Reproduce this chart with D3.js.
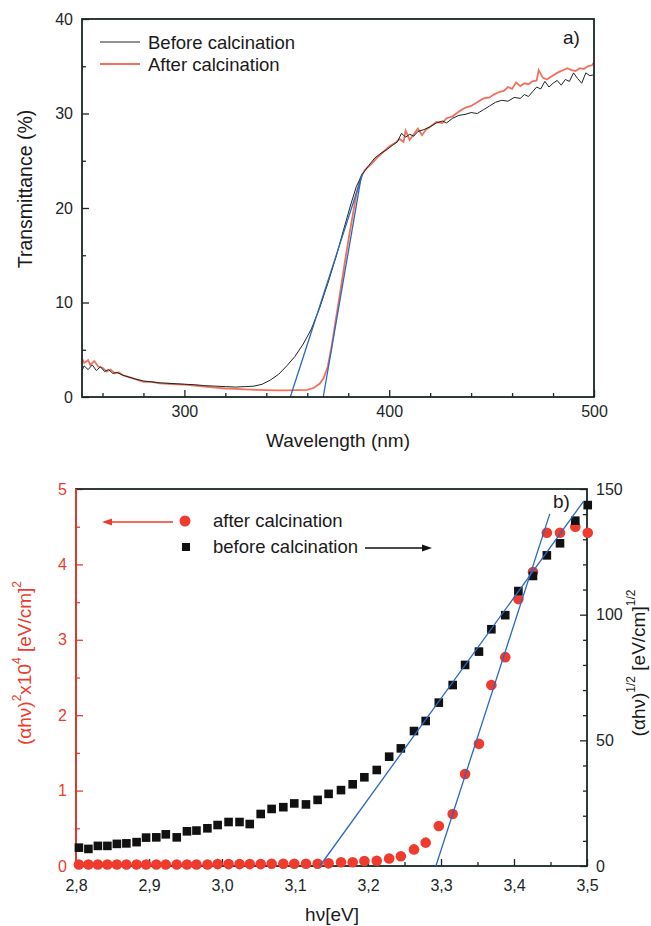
<!DOCTYPE html>
<html>
<head>
<meta charset="utf-8">
<script src="https://cdn.jsdelivr.net/npm/d3@7/dist/d3.min.js"></script>
<style>
  body { margin: 0; background: #fff; }
  svg text { font-family: "Liberation Sans", Arial, sans-serif; }
</style>
</head>
<body>
<svg id="chart" width="651" height="926"></svg>
<script>
// ---- panel a) transmittance spectra, [wavelength nm, T %]
const beforeCalcination = [
  [250, 2.8], [251, 3.3], [253, 2.9], [255, 3.4], [257, 2.8], [259, 3.2], [261, 2.7], [263, 2.9],
  [265, 2.5], [267, 2.6], [270, 2.3], [273, 2.1], [276, 1.9], [280, 1.7], [284, 1.6], [288, 1.5],
  [292, 1.45], [296, 1.4], [300, 1.35], [305, 1.3], [310, 1.2], [315, 1.15], [320, 1.1], [325, 1.05],
  [330, 1.1], [334, 1.15], [338, 1.35], [342, 1.8], [346, 2.4], [350, 3.3], [354, 4.3], [358, 5.6],
  [362, 7.2], [366, 9.4], [370, 12.0], [374, 14.8], [378, 17.9], [381, 20.2], [384, 22.3], [387, 23.6],
  [390, 24.5], [393, 25.3], [396, 25.8], [399, 26.2], [402, 26.7], [404, 27.0], [406, 27.9], [408, 27.5],
  [410, 27.8], [412, 27.6], [414, 28.1], [417, 28.3], [420, 28.6], [423, 29.0], [426, 29.2], [428, 29.0],
  [431, 29.5], [434, 29.8], [437, 29.9], [440, 30.1], [443, 30.0], [446, 30.4], [449, 30.8], [452, 31.2],
  [455, 31.4], [458, 31.3], [461, 31.7], [464, 31.6], [466, 32.0], [468, 31.8], [470, 32.3], [472, 32.8],
  [474, 32.6], [476, 33.4], [478, 32.8], [480, 33.2], [482, 33.5], [484, 33.0], [486, 33.6], [488, 33.4],
  [490, 34.3], [492, 33.7], [494, 33.2], [496, 34.3], [498, 34.0], [500, 34.1]
];
const afterCalcination = [
  [250, 4.1], [251, 3.6], [253, 3.9], [254, 3.4], [256, 3.8], [258, 3.2], [260, 3.1], [262, 2.7],
  [264, 2.9], [266, 2.5], [268, 2.6], [270, 2.3], [273, 2.1], [276, 1.9], [280, 1.6], [284, 1.6],
  [288, 1.45], [292, 1.4], [296, 1.35], [300, 1.3], [305, 1.2], [310, 1.1], [315, 1.0], [320, 0.9],
  [325, 0.85], [330, 0.8], [335, 0.75], [340, 0.72], [345, 0.7], [350, 0.7], [355, 0.72], [360, 0.75],
  [363, 0.95], [366, 1.4], [368, 2.0], [370, 3.2], [372, 5.5], [374, 8.3], [376, 11.0], [378, 13.8],
  [380, 16.5], [382, 19.0], [384, 21.5], [386, 23.2], [388, 24.0], [391, 24.6], [394, 25.3], [397, 25.9],
  [400, 26.5], [403, 26.9], [405, 27.3], [407, 27.0], [408, 28.2], [410, 27.2], [412, 27.8], [414, 28.4],
  [416, 27.7], [418, 28.3], [420, 28.6], [423, 29.1], [426, 29.0], [428, 29.5], [431, 29.7], [434, 30.2],
  [437, 30.6], [440, 30.8], [443, 31.2], [446, 31.6], [449, 31.7], [451, 32.0], [454, 32.3], [456, 32.4],
  [458, 32.8], [460, 32.6], [462, 33.3], [464, 32.9], [466, 33.2], [468, 33.1], [470, 33.4], [472, 33.5],
  [473, 34.6], [475, 33.8], [477, 33.6], [479, 33.9], [482, 34.3], [485, 34.6], [487, 34.8], [489, 34.6],
  [491, 34.5], [493, 34.8], [495, 34.7], [497, 35.0], [499, 35.1], [500, 35.4]
];
// tangent lines (band edge extrapolation)
const topFitLines = [
  [[351.7, 0], [387, 23.6]],
  [[367.8, 0], [386.6, 23.6]]
];
const topXTicks = [300, 400, 500];
const topXMinor = [260, 280, 320, 340, 360, 380, 420, 440, 460, 480];
const topYTicks = [0, 10, 20, 30, 40];
const topYMinor = [5, 15, 25, 35];

// ---- panel b) Tauc plot
const photonEnergy = [
  2.804, 2.817, 2.830, 2.843, 2.856, 2.869, 2.883, 2.896, 2.910, 2.923,
  2.938, 2.952, 2.965, 2.980, 2.994, 3.009, 3.024, 3.038, 3.053, 3.068,
  3.084, 3.099, 3.115, 3.131, 3.146, 3.163, 3.179, 3.195, 3.212, 3.229,
  3.245, 3.263, 3.279, 3.297, 3.316, 3.333, 3.352, 3.369, 3.388, 3.406,
  3.426, 3.445, 3.463, 3.484, 3.501
];
// (alpha h nu)^2 x 1e4, left axis
const afterAlphaSq = [
  0.02, 0.02, 0.02, 0.02, 0.02, 0.02, 0.02, 0.02, 0.02, 0.02,
  0.02, 0.02, 0.02, 0.02, 0.025, 0.025, 0.025, 0.025, 0.025, 0.03,
  0.03, 0.03, 0.03, 0.03, 0.035, 0.05, 0.05, 0.066, 0.07, 0.10,
  0.13, 0.22, 0.31, 0.53, 0.69, 1.22, 1.62, 2.40, 2.77, 3.54,
  3.90, 4.42, 4.42, 4.50, 4.42
];
// (alpha h nu)^1/2, right axis
const beforeAlphaSqrt = [
  7.3, 6.8, 8.0, 8.0, 8.8, 9.0, 9.5, 11.3, 11.4, 12.6,
  11.4, 13.8, 14.1, 15.0, 16.3, 17.5, 17.5, 16.7, 20.7, 22.7,
  23.4, 24.9, 24.5, 26.3, 28.7, 30.2, 32.5, 35.3, 38.2, 43.5,
  46.8, 53.7, 57.7, 65.0, 72.0, 80.0, 85.3, 94.2, 99.8, 109.4,
  115.4, 123.6, 128.4, 137.4, 143.6
];
const fitAfter = [[3.293, 0], [3.449, 4.67]];     // left units
const fitBefore = [[3.134, 0], [3.495, 145]];     // right units
const botXTicks = [2.8, 2.9, 3.0, 3.1, 3.2, 3.3, 3.4, 3.5];
const botXMinor = [2.85, 2.95, 3.05, 3.15, 3.25, 3.35, 3.45];
const leftTicks = [0, 1, 2, 3, 4, 5];
const leftMinor = [0.5, 1.5, 2.5, 3.5, 4.5];
const rightTicks = [0, 50, 100, 150];
const rightMinor = [10, 20, 30, 40, 60, 70, 80, 90, 110, 120, 130, 140];

const ink = '#1c2626';
const red = '#ee3b2d';
const salmon = '#f3705a';
const blue = '#2b68c0';

const svg = d3.select('#chart');

function ticks(g, axis, color, fontSize) {
  g.call(axis);
  g.select('.domain').remove();
  g.selectAll('.tick line').attr('stroke', color).attr('stroke-width', 1.3);
  g.selectAll('.tick text')
    .attr('fill', color)
    .style('font-size', fontSize + 'px')
    .style('font-family', '"Liberation Sans", Arial, sans-serif');
}

// ================= panel a =================
const xTop = d3.scaleLinear().domain([250, 500]).range([82, 594]);
const yTop = d3.scaleLinear().domain([0, 40]).range([397, 19]);
const panelA = svg.append('g');

panelA.append('g').attr('transform', `translate(82,0)`)
  .call(g => ticks(g, d3.axisLeft(yTop).tickValues(topYTicks).tickFormat(d3.format('d')).tickSize(-7).tickPadding(9), ink, 16));
panelA.append('g').attr('transform', `translate(82,0)`)
  .call(g => ticks(g, d3.axisLeft(yTop).tickValues(topYMinor).tickSize(-4).tickFormat(''), ink, 16));
panelA.append('g').attr('transform', `translate(0,397)`)
  .call(g => ticks(g, d3.axisBottom(xTop).tickValues(topXTicks).tickFormat(d3.format('d')).tickSize(-7).tickPadding(9), ink, 16));
panelA.append('g').attr('transform', `translate(0,397)`)
  .call(g => ticks(g, d3.axisBottom(xTop).tickValues(topXMinor).tickSize(-4).tickFormat(''), ink, 16));

const lineTop = d3.line().x(d => xTop(d[0])).y(d => yTop(d[1]));
panelA.append('path').datum(afterCalcination)
  .attr('d', lineTop).attr('fill', 'none').attr('stroke', salmon).attr('stroke-width', 1.8);
panelA.append('path').datum(beforeCalcination)
  .attr('d', lineTop).attr('fill', 'none').attr('stroke', ink).attr('stroke-width', 1);
panelA.selectAll('.fit').data(topFitLines).join('path')
  .attr('d', lineTop).attr('fill', 'none').attr('stroke', blue).attr('stroke-width', 1.3);

panelA.append('rect')
  .attr('x', xTop(250)).attr('y', yTop(40))
  .attr('width', xTop(500) - xTop(250)).attr('height', yTop(0) - yTop(40))
  .attr('fill', 'none').attr('stroke', ink).attr('stroke-width', 1.8);

// legend
const topLegend = [
  { label: 'Before calcination', color: ink, width: 1, y: 42 },
  { label: 'After calcination', color: salmon, width: 1.8, y: 64 }
];
topLegend.forEach(d => {
  panelA.append('line').attr('x1', 100).attr('x2', 140).attr('y1', d.y).attr('y2', d.y)
    .attr('stroke', d.color).attr('stroke-width', d.width);
  panelA.append('text').attr('x', 148).attr('y', d.y + 6.5).text(d.label)
    .attr('fill', '#1a1a1a').style('font-size', '18.5px');
});
panelA.append('text').attr('x', 563).attr('y', 44).text('a)')
  .attr('fill', '#1a1a1a').style('font-size', '19px');

panelA.append('text').attr('x', 338).attr('y', 447).attr('text-anchor', 'middle')
  .text('Wavelength (nm)').attr('fill', '#1a1a1a').style('font-size', '19px');
panelA.append('text').attr('transform', 'translate(25,189) rotate(-90)')
  .attr('text-anchor', 'middle').attr('dominant-baseline', 'central')
  .text('Transmittance (%)').attr('fill', '#1a1a1a').style('font-size', '19.5px');

// ================= panel b =================
const xBot = d3.scaleLinear().domain([2.8, 3.5]).range([76, 587]);
const yLeft = d3.scaleLinear().domain([0, 5]).range([866, 489]);
const yRight = d3.scaleLinear().domain([0, 150]).range([866, 489]);
const panelB = svg.append('g');
const commaFmt = d => d3.format('.1f')(d).replace('.', ',');

panelB.append('g').attr('transform', 'translate(0,866)')
  .call(g => ticks(g, d3.axisBottom(xBot).tickValues(botXTicks).tickFormat(commaFmt).tickSize(-7).tickPadding(14), ink, 16));
panelB.append('g').attr('transform', 'translate(0,866)')
  .call(g => ticks(g, d3.axisBottom(xBot).tickValues(botXMinor).tickFormat('').tickSize(-4), ink, 16));
panelB.append('g').attr('transform', 'translate(76,0)')
  .call(g => ticks(g, d3.axisLeft(yLeft).tickValues(leftTicks).tickFormat(d3.format('d')).tickSize(-7).tickPadding(9), red, 16));
panelB.append('g').attr('transform', 'translate(76,0)')
  .call(g => ticks(g, d3.axisLeft(yLeft).tickValues(leftMinor).tickFormat('').tickSize(-4), red, 16));
panelB.append('g').attr('transform', 'translate(587,0)')
  .call(g => ticks(g, d3.axisRight(yRight).tickValues(rightTicks).tickFormat(d3.format('d')).tickSize(-7).tickPadding(9), ink, 16));
panelB.append('g').attr('transform', 'translate(587,0)')
  .call(g => ticks(g, d3.axisRight(yRight).tickValues(rightMinor).tickFormat('').tickSize(-4), ink, 16));

panelB.append('rect')
  .attr('x', xBot(2.8)).attr('y', yLeft(5))
  .attr('width', xBot(3.5) - xBot(2.8)).attr('height', yLeft(0) - yLeft(5))
  .attr('fill', 'none').attr('stroke', ink).attr('stroke-width', 1.8);
panelB.append('line').attr('x1', xBot(2.8)).attr('x2', xBot(2.8))
  .attr('y1', yLeft(5)).attr('y2', yLeft(0))
  .attr('stroke', red).attr('stroke-width', 1.8);

panelB.selectAll('.after').data(photonEnergy).join('circle')
  .attr('cx', d => xBot(d)).attr('cy', (d, i) => yLeft(afterAlphaSq[i]))
  .attr('r', 5.3).attr('fill', red);
panelB.selectAll('.before').data(photonEnergy).join('rect')
  .attr('x', d => xBot(d) - 4.3).attr('y', (d, i) => yRight(beforeAlphaSqrt[i]) - 4.3)
  .attr('width', 8.6).attr('height', 8.6).attr('fill', '#111');

panelB.append('path').datum(fitAfter)
  .attr('d', d3.line().x(d => xBot(d[0])).y(d => yLeft(d[1])))
  .attr('stroke', blue).attr('stroke-width', 1.3).attr('fill', 'none');
panelB.append('path').datum(fitBefore)
  .attr('d', d3.line().x(d => xBot(d[0])).y(d => yRight(d[1])))
  .attr('stroke', blue).attr('stroke-width', 1.3).attr('fill', 'none');

// legend with arrows pointing to the relevant axis
panelB.append('circle').attr('cx', 185).attr('cy', 521).attr('r', 5.5).attr('fill', red);
panelB.append('rect').attr('x', 182).attr('y', 543).attr('width', 8).attr('height', 8).attr('fill', '#111');
panelB.append('text').attr('x', 213).attr('y', 527).text('after calcination')
  .attr('fill', '#1a1a1a').style('font-size', '18.5px');
panelB.append('text').attr('x', 213).attr('y', 553).text('before calcination')
  .attr('fill', '#1a1a1a').style('font-size', '18.5px');
panelB.append('line').attr('x1', 110).attr('x2', 173).attr('y1', 522).attr('y2', 522)
  .attr('stroke', red).attr('stroke-width', 1.6);
panelB.append('path').attr('d', 'M102,522 L112,518.5 L112,525.5 Z').attr('fill', red);
panelB.append('line').attr('x1', 365).attr('x2', 424).attr('y1', 548).attr('y2', 548)
  .attr('stroke', '#111').attr('stroke-width', 1.6);
panelB.append('path').attr('d', 'M432,548 L422,544.5 L422,551.5 Z').attr('fill', '#111');
panelB.append('text').attr('x', 553).attr('y', 508).text('b)')
  .attr('fill', '#1a1a1a').style('font-size', '19px');

panelB.append('text').attr('x', 332).attr('y', 921).attr('text-anchor', 'middle')
  .text('hν[eV]').attr('fill', '#1a1a1a').style('font-size', '19px');

const leftTitle = panelB.append('text').attr('transform', 'translate(24,663) rotate(-90)')
  .attr('text-anchor', 'middle').attr('dominant-baseline', 'central')
  .attr('fill', red).style('font-size', '19px');
leftTitle.append('tspan').text('(αhν)');
leftTitle.append('tspan').attr('dy', -7).style('font-size', '12px').text('2');
leftTitle.append('tspan').attr('dy', 7).text('x10');
leftTitle.append('tspan').attr('dy', -7).style('font-size', '12px').text('4');
leftTitle.append('tspan').attr('dy', 7).text(' [eV/cm]');
leftTitle.append('tspan').attr('dy', -7).style('font-size', '12px').text('2');

const rightTitle = panelB.append('text').attr('transform', 'translate(638,663) rotate(-90)')
  .attr('text-anchor', 'middle').attr('dominant-baseline', 'central')
  .attr('fill', '#1a1a1a').style('font-size', '19px');
rightTitle.append('tspan').text('(αhν)');
rightTitle.append('tspan').attr('dy', -7).style('font-size', '12px').text('1/2');
rightTitle.append('tspan').attr('dy', 7).text(' [eV/cm]');
rightTitle.append('tspan').attr('dy', -7).style('font-size', '12px').text('1/2');
</script>
</body>
</html>
